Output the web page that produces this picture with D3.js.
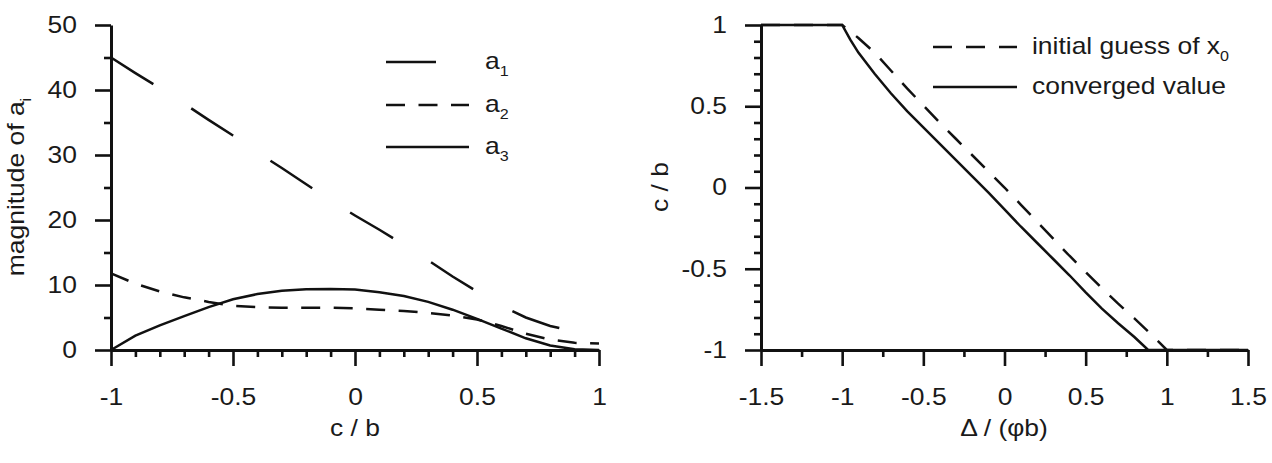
<!DOCTYPE html>
<html>
<head>
<meta charset="utf-8">
<script src="https://cdn.jsdelivr.net/npm/d3@7"></script>
<style>
  body { margin: 0; background: #fff; }
  text { font-family: "Liberation Sans", Arial, sans-serif; fill: #1a1a1a; }
</style>
</head>
<body>
<script>
// ---- data ----
// left panel: magnitude of a_i against c / b
let cbX = [-1, -0.9, -0.8, -0.7, -0.6, -0.5, -0.4, -0.3, -0.2, -0.1, 0, 0.1, 0.2, 0.3, 0.4, 0.5, 0.6, 0.7, 0.8, 0.88];
let a1 = [45, 42.6, 40.3, 37.9, 35.4, 33, 30.4, 28, 25.5, 23, 20.7, 18.5, 16.2, 13.8, 11.3, 9, 6.8, 5, 3.7, 3.0];
let cbX2 = [-1, -0.9, -0.8, -0.7, -0.6, -0.5, -0.4, -0.3, -0.2, -0.1, 0, 0.1, 0.2, 0.3, 0.4, 0.5, 0.6, 0.7, 0.8, 0.9, 1.0];
let a2 = [11.8, 10.2, 9.0, 8.1, 7.4, 6.8, 6.6, 6.5, 6.5, 6.5, 6.4, 6.2, 6.0, 5.7, 5.3, 4.7, 3.7, 2.5, 1.6, 1.1, 1.0];
let a3 = [0, 2.2, 3.8, 5.2, 6.6, 7.8, 8.6, 9.1, 9.35, 9.4, 9.3, 8.9, 8.3, 7.4, 6.2, 4.8, 3.3, 1.8, 0.7, 0.1, 0];
let leftYTicks = [0, 10, 20, 30, 40, 50];
let leftXTicks = [-1, -0.5, 0, 0.5, 1];
let leftLegend = ["1", "2", "3"]; // subscripts of a

// right panel: c / b against Delta / (phi b)
let guessX = [-1.5, -1.0, -0.9, -0.8, -0.7, -0.6, -0.5, -0.4, -0.3, -0.2, -0.1, 0, 0.1, 0.2, 0.3, 0.4, 0.5, 0.6, 0.7, 0.8, 0.9, 1.0, 1.5];
let guessY = [1, 1, 0.92, 0.83, 0.72, 0.61, 0.505, 0.40, 0.30, 0.20, 0.10, 0.0, -0.105, -0.21, -0.315, -0.42, -0.52, -0.62, -0.715, -0.805, -0.9, -1, -1];
let convX = [-1.5, -1.0, -0.95, -0.9, -0.8, -0.7, -0.6, -0.5, -0.4, -0.3, -0.2, -0.1, 0, 0.1, 0.2, 0.3, 0.4, 0.5, 0.6, 0.7, 0.8, 0.885, 1.5];
let convY = [1, 1, 0.91, 0.83, 0.70, 0.58, 0.47, 0.37, 0.27, 0.17, 0.07, -0.03, -0.135, -0.24, -0.34, -0.44, -0.54, -0.645, -0.745, -0.835, -0.92, -1, -1];
let rightYTicks = [-1, -0.5, 0, 0.5, 1];
let rightXTicks = [-1.5, -1, -0.5, 0, 0.5, 1, 1.5];
let rightLegend = ["initial guess of x", "converged value"];

let width = 1272, height = 463;
let SX = 1.15;           // the original text is drawn a bit wide
let fontSize = 23;
let subSize = 14;

let svg = d3.select("body").append("svg")
    .attr("width", width)
    .attr("height", height);

// widen a text about its anchor x
function stretch(sel) {
  sel.each(function () {
    let t = d3.select(this);
    let x = +t.attr("x") || 0;
    t.attr("transform", `translate(${x},0) scale(${SX},1) translate(${-x},0)`);
  });
}

function styleAxis(g) {
  g.selectAll("line").attr("stroke", "#111").attr("stroke-width", 2.6);
  g.selectAll("path").attr("stroke", "#111").attr("stroke-width", 3);
  g.selectAll("text").attr("font-size", fontSize).attr("fill", "#1a1a1a");
}

function drawAxes(x, y, xMajor, xMinor, yMajor, yMinor, fmt) {
  let x0 = x.range()[0], y0 = y.range()[0];
  // minor ticks first
  let xm = svg.append("g").attr("transform", `translate(0,${y0})`)
      .call(d3.axisBottom(x).tickValues(xMinor).tickSize(7).tickFormat(""));
  xm.select(".domain").remove();
  styleAxis(xm);
  let ym = svg.append("g").attr("transform", `translate(${x0},0)`)
      .call(d3.axisLeft(y).tickValues(yMinor).tickSize(7).tickFormat(""));
  ym.select(".domain").remove();
  styleAxis(ym);

  let xg = svg.append("g").attr("transform", `translate(0,${y0})`)
      .call(d3.axisBottom(x).tickValues(xMajor).tickSize(16).tickSizeOuter(0).tickFormat(fmt));
  styleAxis(xg);
  xg.selectAll("text").attr("y", 39).attr("dy", "0.71em").call(stretch);

  let yg = svg.append("g").attr("transform", `translate(${x0},0)`)
      .call(d3.axisLeft(y).tickValues(yMajor).tickSize(16).tickSizeOuter(0).tickFormat(fmt));
  styleAxis(yg);
  yg.selectAll("text").attr("x", -34).call(stretch);
}

let fmt = d => String(d);   // plain hyphen minus, like the original

// ---------- left panel ----------
let xL = d3.scaleLinear().domain([-1, 1]).range([111, 599]);
let yL = d3.scaleLinear().domain([0, 50]).range([350, 25]);

let xMinorL = d3.range(-10, 11).map(i => i / 10).filter(v => Math.abs(v * 2 - Math.round(v * 2)) > 1e-6);
let yMinorL = [5, 15, 25, 35, 45];
drawAxes(xL, yL, leftXTicks, xMinorL, leftYTicks, yMinorL, fmt);

let lineL = (xs) => d3.line().x((d, i) => xL(xs[i])).y(d => yL(d));
let dashA1 = "50,45", dashA2 = "19,13.5";

svg.append("path").datum(a3).attr("d", lineL(cbX2))
    .attr("fill", "none").attr("stroke", "#111").attr("stroke-width", 2.5);
svg.append("path").datum(a2).attr("d", lineL(cbX2))
    .attr("fill", "none").attr("stroke", "#111").attr("stroke-width", 2.5)
    .attr("stroke-dasharray", dashA2);
svg.append("path").datum(a1).attr("d", lineL(cbX))
    .attr("fill", "none").attr("stroke", "#111").attr("stroke-width", 2.5)
    .attr("stroke-dasharray", dashA1);

// left legend
let legL = svg.append("g");
let legDash = [dashA1, dashA2, null];
let legY = [62, 105, 147];
leftLegend.forEach((s, i) => {
  legL.append("line").attr("x1", 386).attr("x2", 469).attr("y1", legY[i]).attr("y2", legY[i])
      .attr("stroke", "#111").attr("stroke-width", 2.5)
      .attr("stroke-dasharray", legDash[i]);
  let t = legL.append("text").attr("x", 485).attr("y", legY[i] + 7).attr("font-size", fontSize);
  t.append("tspan").text("a");
  t.append("tspan").attr("font-size", subSize).attr("dy", 7).text(s);
  t.call(stretch);
});

// axis titles left
let tx = svg.append("text").attr("x", 355).attr("y", 436).attr("text-anchor", "middle")
    .attr("font-size", fontSize).text("c / b");
tx.call(stretch);

let yt = svg.append("g").attr("transform", "translate(24,187) rotate(-90)")
    .append("text").attr("text-anchor", "middle").attr("font-size", fontSize)
    .attr("transform", `scale(${SX},1)`);
yt.append("tspan").text("magnitude of a");
yt.append("tspan").attr("font-size", subSize).attr("dy", 7).text("i");

// ---------- right panel ----------
let xR = d3.scaleLinear().domain([-1.5, 1.5]).range([761, 1248]);
let yR = d3.scaleLinear().domain([-1, 1]).range([350, 25]);

let xMinorR = [-1.25, -0.75, -0.25, 0.25, 0.75, 1.25];
let yMinorR = d3.range(-10, 11).map(i => i / 10).filter(v => Math.abs(v * 2 - Math.round(v * 2)) > 1e-6);
drawAxes(xR, yR, rightXTicks, xMinorR, rightYTicks, yMinorR, fmt);

let lineR = (xs) => d3.line().x((d, i) => xR(xs[i])).y(d => yR(d));
let dashGuess = "19,14";

svg.append("path").datum(convY).attr("d", lineR(convX))
    .attr("fill", "none").attr("stroke", "#111").attr("stroke-width", 2.5);
svg.append("path").datum(guessY).attr("d", lineR(guessX))
    .attr("fill", "none").attr("stroke", "#111").attr("stroke-width", 2.5)
    .attr("stroke-dasharray", dashGuess);

// right legend
let legR = svg.append("g");
let legRY = [47, 87];
let legRDash = [dashGuess, null];
rightLegend.forEach((s, i) => {
  legR.append("line").attr("x1", 933).attr("x2", 1017).attr("y1", legRY[i]).attr("y2", legRY[i])
      .attr("stroke", "#111").attr("stroke-width", 2.5)
      .attr("stroke-dasharray", legRDash[i]);
  let t = legR.append("text").attr("x", 1032).attr("y", legRY[i] + 7).attr("font-size", fontSize);
  t.append("tspan").text(s);
  if (i === 0) t.append("tspan").attr("font-size", subSize).attr("dy", 7).text("0");
  t.call(stretch);
});

let txr = svg.append("text").attr("x", 1004).attr("y", 436).attr("text-anchor", "middle")
    .attr("font-size", fontSize).text("\u0394 / (\u03c6b)");
txr.call(stretch);

svg.append("g").attr("transform", "translate(668,187) rotate(-90)")
    .append("text").attr("text-anchor", "middle").attr("font-size", fontSize)
    .attr("transform", `scale(${SX},1)`).text("c / b");
</script>
</body>
</html>
